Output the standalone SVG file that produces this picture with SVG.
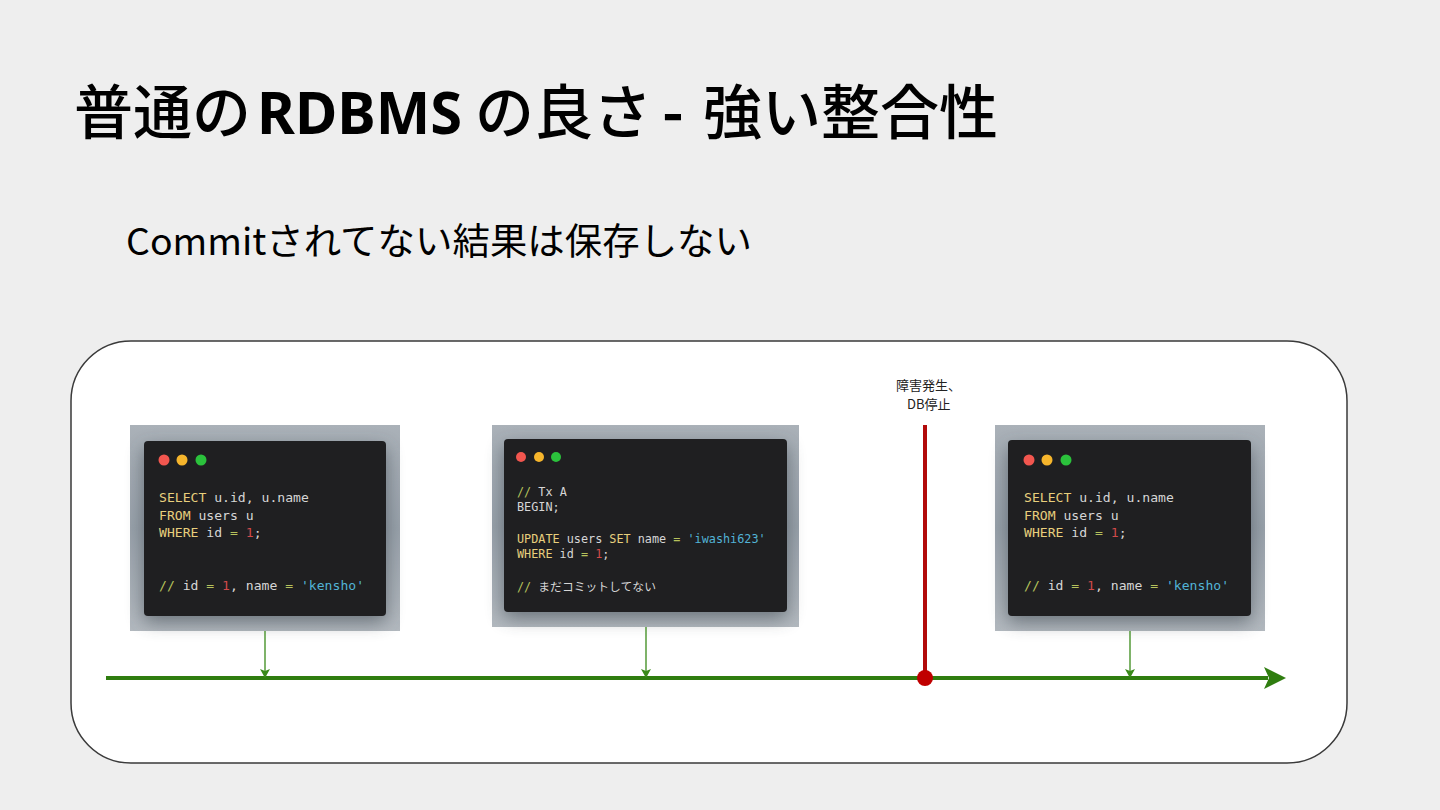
<svg xmlns="http://www.w3.org/2000/svg" width="1440" height="810" viewBox="0 0 1440 810">
<defs>
<style>
.title{font-family:"Noto Sans CJK JP","Noto Sans",sans-serif;font-size:59px;fill:#000;font-weight:500}
.sub{font-family:"Noto Sans CJK JP","Noto Sans",sans-serif;font-size:37px;fill:#000;font-weight:400}
.code{font-family:"DejaVu Sans Mono","Noto Sans CJK JP",monospace;font-size:13.1px;fill:#d6d6d6;white-space:pre}
.code2{font-size:11.8px}
.kw{fill:#e8cf7d}
.num{fill:#d04a4a}
.str{fill:#52b3d6}
.op{fill:#b6c25c}
.frame{fill:url(#fg)}
.win{fill:#1f1f21}
.r{fill:#f2564f}.y{fill:#f6b52c}.g{fill:#2bc23c}
.lbl{font-family:"Noto Sans CJK JP","Liberation Sans",sans-serif;font-size:13px;fill:#222}
.tick{stroke:#3a8a1a;stroke-width:1.3;fill:none}
</style>
<linearGradient id="fg" x1="0" y1="0" x2="0" y2="1">
<stop offset="0" stop-color="#aab1b8"/>
<stop offset="0.5" stop-color="#98a1aa"/>
<stop offset="1" stop-color="#b3b9bf"/>
</linearGradient>
<filter id="sh" x="-20%" y="-20%" width="140%" height="150%">
<feGaussianBlur stdDeviation="9"/>
</filter>
<marker id="ah" markerWidth="9" markerHeight="10" refX="8" refY="5" orient="auto" markerUnits="userSpaceOnUse">
<path d="M0,0 L9,5 L0,10 L2,5 Z" fill="#3a8a1a"/>
</marker>
</defs>
<rect width="1440" height="810" fill="#eeeeee"/>

<g id="title">
<text class="title" y="134"><tspan x="74">普通の</tspan><tspan x="257" font-weight="700" font-family="Noto Sans, sans-serif" textLength="205" lengthAdjust="spacingAndGlyphs">RDBMS</tspan><tspan x="475">の良さ</tspan><tspan x="662" font-weight="700">-</tspan><tspan x="703">強い整合性</tspan></text>
</g>
<g id="subtitle">
<text class="sub" x="126" y="255" textLength="626" lengthAdjust="spacingAndGlyphs">Commitされてない結果は保存しない</text>
</g>

<g id="container">
<rect x="71" y="341" width="1276" height="422" rx="60" ry="60" fill="#ffffff" stroke="#3a3a3a" stroke-width="1.5"/>
</g>

<g id="window1">
<rect class="frame" x="130" y="425" width="270" height="206"/>
<rect x="144" y="448" width="242" height="174" rx="5" fill="#3c4650" opacity="0.6" filter="url(#sh)"/>
<rect class="win" x="144" y="441" width="242" height="175" rx="4"/>
<circle class="r" cx="164" cy="460" r="5.5"/><circle class="y" cx="182" cy="460" r="5.5"/><circle class="g" cx="201" cy="460" r="5.5"/>
<text class="code"><tspan x="159" y="502"><tspan class="kw">SELECT</tspan> u.id, u.name</tspan><tspan x="159" y="520"><tspan class="kw">FROM</tspan> users u</tspan><tspan x="159" y="537"><tspan class="kw">WHERE</tspan> id <tspan class="op">=</tspan> <tspan class="num">1</tspan>;</tspan><tspan x="159" y="590"><tspan class="op">//</tspan> id <tspan class="op">=</tspan> <tspan class="num">1</tspan>, name <tspan class="op">=</tspan> <tspan class="str">'kensho'</tspan></tspan></text>
</g>

<g id="window2">
<rect class="frame" x="492" y="425" width="307" height="202"/>
<rect x="504" y="446" width="283" height="172" rx="5" fill="#3c4650" opacity="0.6" filter="url(#sh)"/>
<rect class="win" x="504" y="439" width="283" height="173" rx="4"/>
<circle class="r" cx="521" cy="457" r="5"/><circle class="y" cx="539" cy="457" r="5"/><circle class="g" cx="556" cy="457" r="5"/>
<text class="code code2"><tspan x="517" y="496"><tspan class="op">//</tspan> Tx A</tspan><tspan x="517" y="511">BEGIN;</tspan><tspan x="517" y="543"><tspan class="kw">UPDATE</tspan> users <tspan class="kw">SET</tspan> name <tspan class="op">=</tspan> <tspan class="str">'iwashi623'</tspan></tspan><tspan x="517" y="558"><tspan class="kw">WHERE</tspan> id <tspan class="op">=</tspan> <tspan class="num">1</tspan>;</tspan><tspan x="517" y="591"><tspan class="op">//</tspan> まだコミットしてない</tspan></text>
</g>

<g id="window3">
<rect class="frame" x="995" y="425" width="270" height="206"/>
<rect x="1008" y="448" width="243" height="174" rx="5" fill="#3c4650" opacity="0.6" filter="url(#sh)"/>
<rect class="win" x="1008" y="440" width="243" height="176" rx="4"/>
<circle class="r" cx="1029" cy="460" r="5.5"/><circle class="y" cx="1047" cy="460" r="5.5"/><circle class="g" cx="1066" cy="460" r="5.5"/>
<text class="code"><tspan x="1024" y="502"><tspan class="kw">SELECT</tspan> u.id, u.name</tspan><tspan x="1024" y="520"><tspan class="kw">FROM</tspan> users u</tspan><tspan x="1024" y="537"><tspan class="kw">WHERE</tspan> id <tspan class="op">=</tspan> <tspan class="num">1</tspan>;</tspan><tspan x="1024" y="590"><tspan class="op">//</tspan> id <tspan class="op">=</tspan> <tspan class="num">1</tspan>, name <tspan class="op">=</tspan> <tspan class="str">'kensho'</tspan></tspan></text>
</g>

<g id="failure">
<text class="lbl"><tspan x="896" y="390">障害発生、</tspan><tspan x="907" y="409">DB停止</tspan></text>
</g>

<g id="connectors">
<line x1="106" y1="678" x2="1268" y2="678" stroke="#2f7d0f" stroke-width="4"/>
<path d="M1286,678 L1264,667 L1269,678 L1264,689 Z" fill="#2f7d0f"/>
<line x1="265" y1="631" x2="265" y2="677" class="tick" marker-end="url(#ah)"/>
<line x1="646" y1="627" x2="646" y2="677" class="tick" marker-end="url(#ah)"/>
<line x1="1130" y1="631" x2="1130" y2="677" class="tick" marker-end="url(#ah)"/>
<line x1="925" y1="425" x2="925" y2="678" stroke="#b20a0a" stroke-width="4"/>
<circle cx="925" cy="678" r="8" fill="#c00000"/>
</g>
</svg>
